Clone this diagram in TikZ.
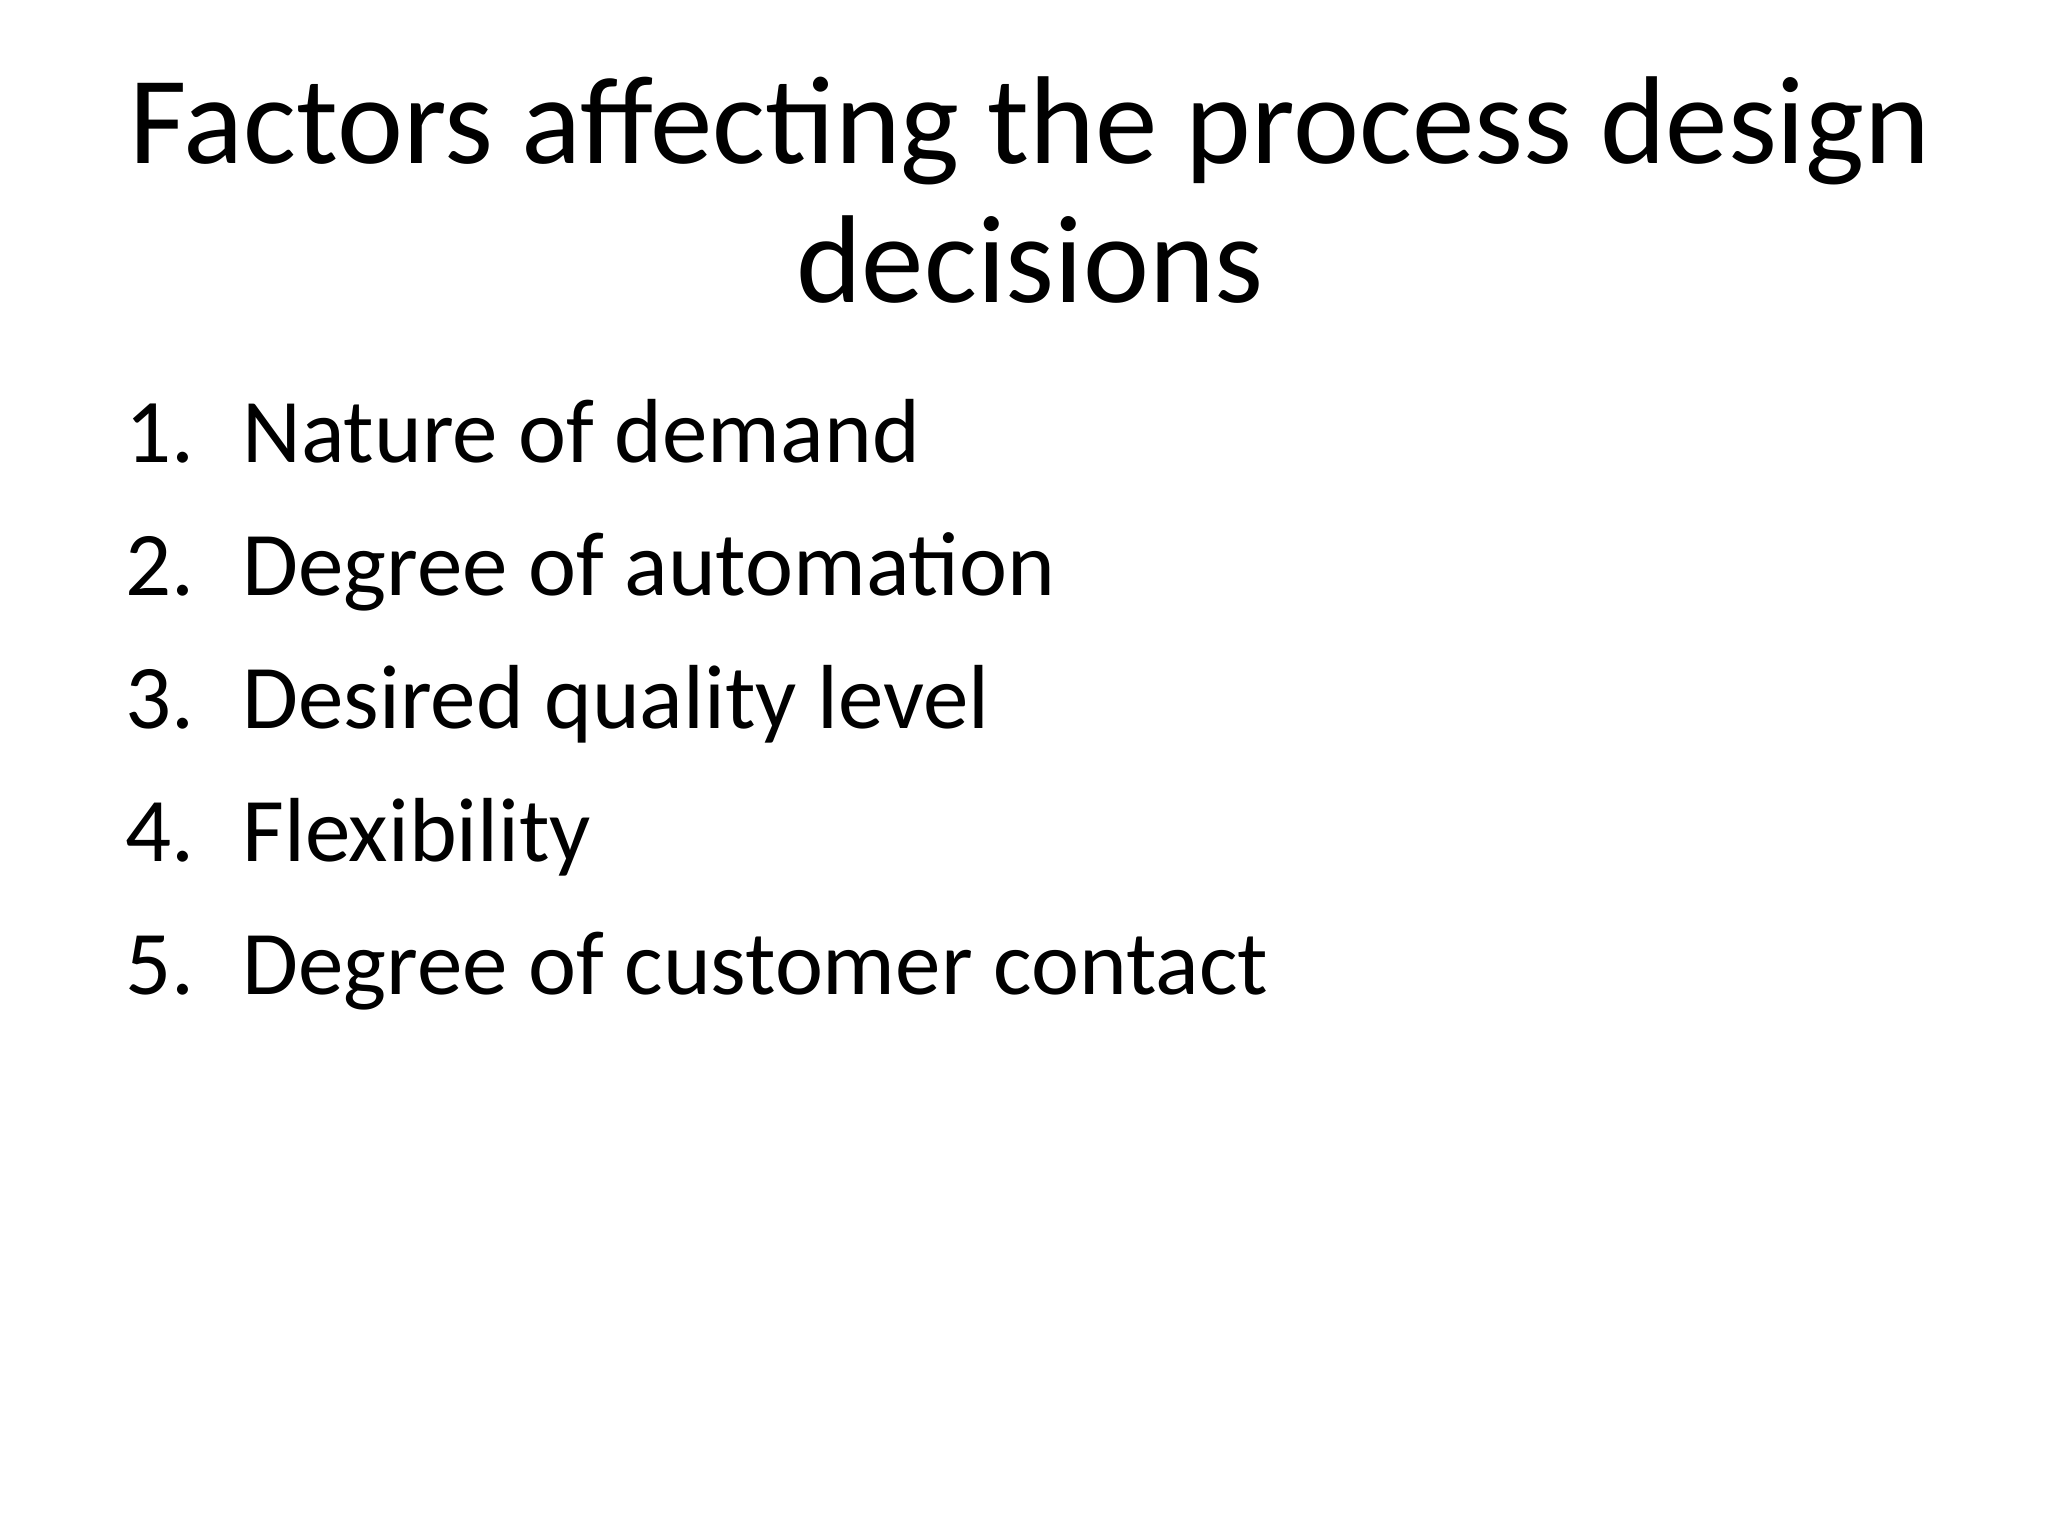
\documentclass[tikz,border=0pt]{standalone}
\usepackage{fontspec}
\setmainfont{Carlito}
\begin{document}
\begin{tikzpicture}[x=0.5pt,y=-0.5pt,
  titlestyle/.style={font=\fontsize{62.5}{72}\selectfont, inner sep=0pt, anchor=base},
  itemstyle/.style={font=\fontsize{45.5}{54}\selectfont, inner sep=0pt, anchor=base west}]
\useasboundingbox (0,0) rectangle (2048,1536);
\fill[white] (0,0) rectangle (2048,1536);
\node[titlestyle] (t1) at (1030,163) {Factors affecting the process design};
\node[titlestyle] (t2) at (1030,302) {decisions};
\foreach \n/\txt [count=\i] in {1/Nature of demand,2/Degree of automation,3/Desired quality level,4/Flexibility,5/Degree of customer contact}{
  \node[itemstyle] (n\i) at (125,{462+(\i-1)*133}) {\n.};
  \node[itemstyle] (i\i) at (242,{462+(\i-1)*133}) {\txt};
}
\end{tikzpicture}
\end{document}
